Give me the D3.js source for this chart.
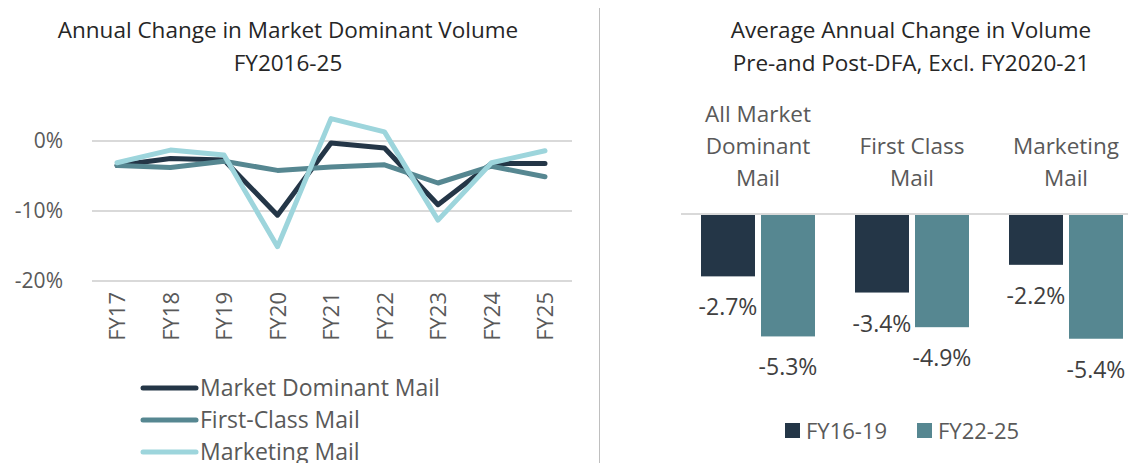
<!DOCTYPE html>
<html>
<head>
<meta charset="utf-8">
<script src="https://cdn.jsdelivr.net/npm/d3@7"></script>
<style>
  body { margin: 0; background: #fff; }
  svg text { font-family: "Open Sans", "Noto Sans", sans-serif; fill: #595959; }
</style>
</head>
<body>
<div id="graph"></div>
<script>
// ---- data ----
var years = [ 'FY17', 'FY18', 'FY19', 'FY20', 'FY21', 'FY22', 'FY23', 'FY24', 'FY25' ];
var seriesNames = [ 'Market Dominant Mail', 'First-Class Mail', 'Marketing Mail' ];
var marketDominant = [ -3.5, -2.5, -2.7, -10.6, -0.3, -1.0, -9.1, -3.2, -3.2 ];
var firstClass     = [ -3.5, -3.8, -2.9, -4.2, -3.7, -3.4, -6.0, -3.6, -5.1 ];
var marketing      = [ -3.1, -1.3, -2.0, -15.1, 3.2, 1.3, -11.3, -3.1, -1.4 ];
var yTicks = [ 0, -10, -20 ];

var categories = [ [ 'All Market', 'Dominant', 'Mail' ], [ 'First Class', 'Mail' ], [ 'Marketing', 'Mail' ] ];
var periods = [ 'FY16-19', 'FY22-25' ];
var preDFA  = [ -2.7, -3.4, -2.2 ];
var postDFA = [ -5.3, -4.9, -5.4 ];

var lineColours = [ '#243647', '#568791', '#9dd5dc' ];
var barColours  = [ '#243647', '#568791' ];

var svg = d3.select ('#graph').append ('svg')
            .attr ('width', 1128)
            .attr ('height', 463);

// divider
svg.append ('line')
   .attr ('x1', 599.5).attr ('x2', 599.5)
   .attr ('y1', 8).attr ('y2', 463)
   .attr ('stroke', '#bfbfbf').attr ('stroke-width', 1);

//
// Left chart: line chart
//
var left = svg.append ('g');

left.append ('text').attr ('x', 288).attr ('y', 38)
    .attr ('text-anchor', 'middle').style ('font-size', '22.5px').style ('fill', '#262626')
    .text ('Annual Change in Market Dominant Volume');
left.append ('text').attr ('x', 288).attr ('y', 71)
    .attr ('text-anchor', 'middle').style ('font-size', '22.5px').style ('fill', '#262626')
    .text ('FY2016-25');

var x = d3.scalePoint ().domain (years).range ([ 117, 545 ]);
var y = d3.scaleLinear ().domain ([ -20, 0 ]).range ([ 281, 141 ]);

left.selectAll ('.grid')
    .data (yTicks)
    .enter ().append ('line')
    .attr ('x1', 92).attr ('x2', 572)
    .attr ('y1', function (d) { return y (d); })
    .attr ('y2', function (d) { return y (d); })
    .attr ('stroke', '#d9d9d9').attr ('stroke-width', 2);

left.selectAll ('.ytick')
    .data (yTicks)
    .enter ().append ('text')
    .attr ('x', 63)
    .attr ('y', function (d) { return y (d); })
    .attr ('dy', '0.35em')
    .attr ('text-anchor', 'end')
    .style ('font-size', '21px')
    .text (function (d) { return d + '%'; });

left.selectAll ('.xtick')
    .data (years)
    .enter ().append ('text')
    .attr ('transform', function (d) { return 'translate(' + (x (d) + 8) + ',292)rotate(-90)'; })
    .attr ('text-anchor', 'end')
    .style ('font-size', '22px')
    .text (function (d) { return d; });

var seriesData = [ marketDominant, firstClass, marketing ];
var line = d3.line ()
             .x (function (d, i) { return x (years[i]); })
             .y (function (d) { return y (d); });

left.selectAll ('.series')
    .data (seriesData)
    .enter ().append ('path')
    .attr ('d', line)
    .attr ('fill', 'none')
    .attr ('stroke', function (d, i) { return lineColours[i]; })
    .attr ('stroke-width', 5)
    .attr ('stroke-linejoin', 'round')
    .attr ('stroke-linecap', 'round');

var legend = left.selectAll ('.legend')
                 .data (seriesNames)
                 .enter ().append ('g')
                 .attr ('transform', function (d, i) { return 'translate(0,' + (388 + i * 32) + ')'; });
legend.append ('line')
      .attr ('x1', 143).attr ('x2', 196)
      .attr ('stroke', function (d, i) { return lineColours[i]; })
      .attr ('stroke-width', 5).attr ('stroke-linecap', 'round');
legend.append ('text')
      .attr ('x', 200).attr ('dy', '0.35em')
      .style ('font-size', '23px')
      .text (function (d) { return d; });

//
// Right chart: grouped bars
//
var right = svg.append ('g');

right.append ('text').attr ('x', 911).attr ('y', 38)
     .attr ('text-anchor', 'middle').style ('font-size', '22.5px').style ('fill', '#262626')
     .text ('Average Annual Change in Volume');
right.append ('text').attr ('x', 911).attr ('y', 71)
     .attr ('text-anchor', 'middle').style ('font-size', '22.5px').style ('fill', '#262626')
     .text ('Pre-and Post-DFA, Excl. FY2020-21');

var catIdx = [ 0, 1, 2 ];
var x0 = d3.scaleBand ().domain (catIdx).range ([ 681, 1143 ]);
var x1 = d3.scaleBand ().domain ([ 0, 1 ]).range ([ 20, 134 ]).paddingInner (0.1);
var yb = d3.scaleLinear ().domain ([ -6, 0 ]).range ([ 214 + 6 * 23.1, 214 ]);

var groups = right.selectAll ('.grp')
                  .data (catIdx)
                  .enter ().append ('g')
                  .attr ('transform', function (d) { return 'translate(' + x0 (d) + ',0)'; });

groups.each (function (c)
{
    var g = d3.select (this);
    var vals = [ preDFA[c], postDFA[c] ];

    g.selectAll ('rect')
     .data (vals)
     .enter ().append ('rect')
     .attr ('x', function (d, i) { return x1 (i); })
     .attr ('y', yb (0))
     .attr ('width', x1.bandwidth ())
     .attr ('height', function (d) { return yb (d) - yb (0); })
     .attr ('fill', function (d, i) { return barColours[i]; });

    g.selectAll ('.val')
     .data (vals)
     .enter ().append ('text')
     .attr ('x', function (d, i) { return x1 (i) + x1.bandwidth () / 2; })
     .attr ('y', function (d) { return yb (d) + 31; })
     .attr ('dy', '0.35em')
     .attr ('text-anchor', 'middle')
     .style ('font-size', '23px')
     .style ('fill', '#404040')
     .text (function (d) { return d.toFixed (1) + '%'; });

    var lines = categories[c];
    g.selectAll ('.cat')
     .data (lines)
     .enter ().append ('text')
     .attr ('x', 77)
     .attr ('y', function (d, i) { return 178 - (lines.length - 1 - i) * 32; })
     .attr ('dy', '0.35em')
     .attr ('text-anchor', 'middle')
     .style ('font-size', '22.5px')
     .text (function (d) { return d; });
});

right.append ('line')
     .attr ('x1', 681).attr ('x2', 1128)
     .attr ('y1', yb (0)).attr ('y2', yb (0))
     .attr ('stroke', '#d9d9d9').attr ('stroke-width', 2);

var bl = right.selectAll ('.blegend')
              .data (periods)
              .enter ().append ('g')
              .attr ('transform', function (d, i) { return 'translate(' + (785 + i * 132) + ',423)'; });
bl.append ('rect')
  .attr ('width', 15).attr ('height', 15)
  .attr ('fill', function (d, i) { return barColours[i]; });
bl.append ('text')
  .attr ('x', 21).attr ('y', 8).attr ('dy', '0.35em')
  .style ('font-size', '22px')
  .text (function (d) { return d; });
</script>
</body>
</html>
